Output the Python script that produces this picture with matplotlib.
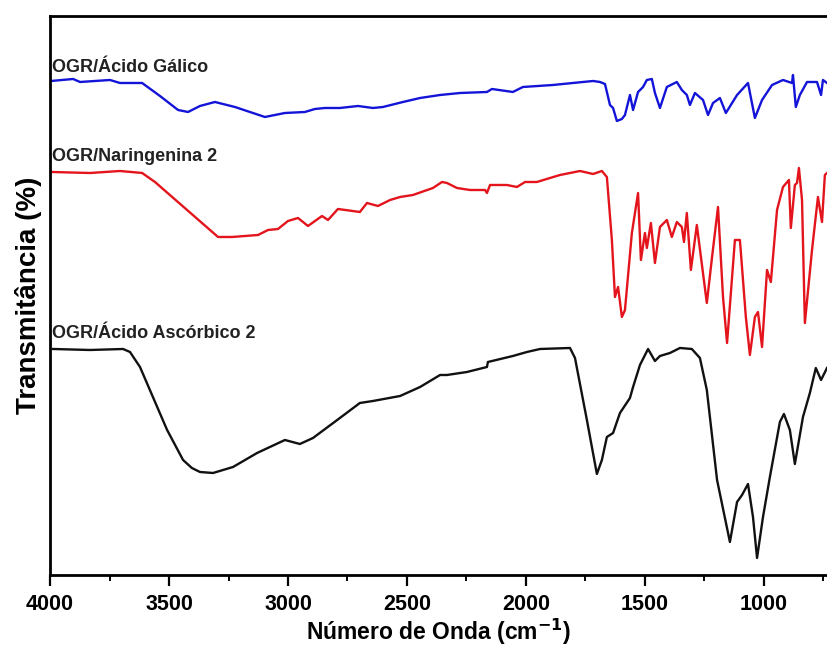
import matplotlib
matplotlib.use("Agg")
import matplotlib.pyplot as plt
from matplotlib.ticker import MultipleLocator

plt.rcParams['font.family'] = ['Liberation Sans', 'DejaVu Sans']

# FTIR spectra: wavenumber (cm^-1) and stacked transmittance (a.u.)
gallic_wn = [3996, 3903, 3874, 3748, 3706, 3613, 3538, 3462, 3420, 3370, 3307, 3223, 3160, 3097,
             3013, 2929, 2887, 2845, 2782, 2706, 2643, 2601, 2517, 2445, 2361, 2277, 2164, 2143,
             2055, 2013, 1887, 1803, 1718, 1689, 1668, 1647, 1634, 1618, 1597, 1584, 1563, 1550,
             1529, 1508, 1492, 1471, 1458, 1437, 1408, 1366, 1345, 1324, 1311, 1290, 1256, 1235,
             1214, 1185, 1160, 1113, 1067, 1038, 1008, 966, 920, 882, 878, 866, 849, 819, 777,
             760, 752, 735]
gallic_t = [494, 496, 493, 495, 492, 492, 479, 465, 463, 469, 473, 468, 463, 458,
            462, 463, 466, 467, 467, 469, 467, 468, 473, 477, 480, 482, 483, 486,
            483, 488, 490, 492, 494, 493, 491, 470, 467, 454, 456, 460, 480, 465,
            483, 488, 495, 496, 482, 467, 488, 493, 485, 480, 470, 482, 475, 460,
            472, 477, 462, 480, 492, 457, 475, 490, 495, 492, 500, 468, 480, 493, 493,
            480, 495, 492]

naringenin_wn = [3992, 3832, 3706, 3613, 3559, 3294, 3235, 3126, 3084, 3042, 3000, 2958, 2916,
                 2857, 2832, 2790, 2698, 2668, 2622, 2571, 2529, 2475, 2391, 2353, 2332, 2290,
                 2235, 2172, 2164, 2151, 2080, 2038, 2004, 1954, 1899, 1857, 1773, 1718, 1681,
                 1660, 1639, 1626, 1613, 1597, 1584, 1555, 1529, 1517, 1500, 1492, 1475, 1458,
                 1437, 1408, 1387, 1366, 1345, 1336, 1324, 1307, 1282, 1240, 1218, 1193, 1172,
                 1155, 1122, 1101, 1076, 1059, 1038, 1025, 1008, 987, 971, 945, 920, 895, 887,
                 870, 861, 853, 840, 828, 798, 773, 756, 744, 735]
naringenin_t = [403, 402, 404, 402, 393, 338, 338, 340, 345, 346, 354, 357, 349,
                359, 355, 366, 363, 372, 369, 375, 378, 380, 387, 393, 392, 387,
                385, 385, 382, 390, 390, 388, 393, 393, 397, 400, 404, 401, 404,
                398, 335, 278, 288, 258, 265, 342, 382, 315, 342, 327, 352, 312,
                348, 355, 338, 353, 348, 333, 362, 305, 350, 272, 318, 368, 278,
                232, 335, 335, 258, 220, 258, 263, 228, 305, 293, 365, 388, 395, 347,
                390, 392, 407, 375, 252, 325, 378, 353, 400, 402]

ascorbic_wn = [3987, 3832, 3693, 3664, 3622, 3508, 3441, 3404, 3370, 3315, 3231, 3130, 3013, 2950,
               2895, 2782, 2698, 2643, 2529, 2445, 2361, 2332, 2248, 2164, 2160, 2055, 1996,
               1941, 1815, 1794, 1744, 1702, 1681, 1660, 1634, 1605, 1563, 1550, 1521, 1487,
               1458, 1437, 1395, 1353, 1303, 1269, 1240, 1197, 1143, 1113, 1092, 1067, 1046,
               1029, 1004, 975, 933, 916, 891, 870, 836, 807, 782, 760, 735]
ascorbic_t = [226, 225, 226, 223, 208, 145, 115, 107, 103, 102, 108, 122, 135, 131,
              137, 157, 172, 174, 179, 188, 200, 200, 203, 208, 213, 219, 223,
              226, 227, 217, 155, 101, 115, 138, 142, 162, 177, 188, 210, 226,
              214, 219, 222, 227, 226, 217, 185, 95, 33, 73, 80, 91, 58,
              17, 58, 98, 153, 161, 145, 111, 158, 182, 207, 195, 207]

series_names = ["OGR/Ácido Gálico", "OGR/Naringenina 2", "OGR/Ácido Ascórbico 2"]
series_colors = ["#1414d8", "#e3141c", "#111111"]
label_heights = [503, 414, 237]

x_ticks = [4000, 3500, 3000, 2500, 2000, 1500, 1000]

fig = plt.figure(figsize=(8.27, 6.5), dpi=100)
ax = fig.add_axes([0.0605, 0.1154, 0.9395, 0.860])

spectra = [(gallic_wn, gallic_t), (naringenin_wn, naringenin_t), (ascorbic_wn, ascorbic_t)]
for (wn, t), color in zip(spectra, series_colors):
    ax.plot(wn, t, color=color, lw=1.7, solid_joinstyle='round')

for name, h in zip(series_names, label_heights):
    ax.text(3990, h, name, fontsize=13, fontweight='bold', color='#222222',
            ha='left', va='baseline')

ax.set_xlim(4000, 735)
ax.set_ylim(0, 559)
ax.set_xticks(x_ticks)
ax.xaxis.set_minor_locator(MultipleLocator(250))
ax.set_yticks([])
ax.tick_params(axis='x', which='major', direction='out', length=8, width=1.6,
               labelsize=15.5, pad=6)
ax.tick_params(axis='x', which='minor', direction='out', length=4, width=1.4)
for lbl in ax.get_xticklabels():
    lbl.set_fontweight('bold')

for side in ['left', 'bottom', 'top']:
    ax.spines[side].set_linewidth(2.0)
ax.spines['right'].set_visible(False)

ax.set_xlabel("Número de Onda (cm$^{\\mathbf{-1}}$)", fontsize=16.5, fontweight='bold', labelpad=1)
ax.set_ylabel("Transmitância (%)", fontsize=20, fontweight='bold', labelpad=6)

fig.savefig("out.png", dpi=100)
